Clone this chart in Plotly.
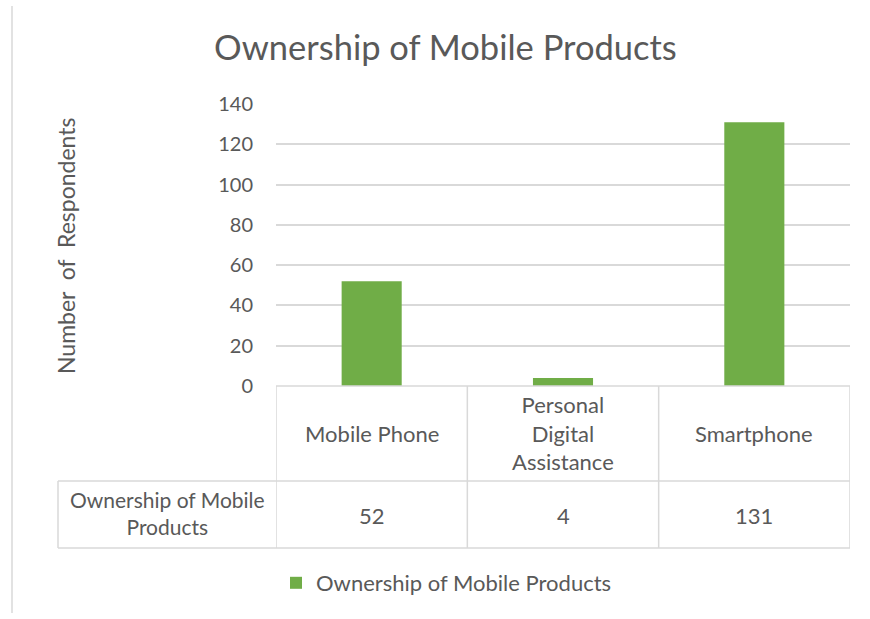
import plotly.graph_objects as go

categories = ["Mobile Phone", "Personal<br>Digital<br>Assistance", "Smartphone"]
values = [52, 4, 131]
series_name = "Ownership of Mobile Products"
row_label = "Ownership of Mobile<br>Products"
y_ticks = [0, 20, 40, 60, 80, 100, 120, 140]

W, H = 870, 619
L, R, T, B = 276, 850, 104, 386
GREEN = "#70ad47"
TXT = "#595959"
GRID = "#d9d9d9"
FONT = "Lato"

def px(x):
    return (x - L) / (R - L)

def py(y):
    return (B - y) / (B - T)

fig = go.Figure()
fig.add_trace(go.Bar(x=list(range(len(values))), y=values, name=series_name,
                     marker=dict(color=GREEN, line=dict(width=0))))

shapes = []
line = dict(color=GRID, width=1.5)
# table horizontal lines
for yy, x0 in [(B, L), (481, 58), (548, 58)]:
    shapes.append(dict(type="line", xref="paper", yref="paper", x0=px(x0), x1=1,
                       y0=py(yy), y1=py(yy), line=line))
# table vertical lines (category boundaries)
for i in range(len(values) + 1):
    shapes.append(dict(type="line", xref="x", yref="paper", x0=i - 0.5, x1=i - 0.5,
                       y0=py(B), y1=py(548), line=line))
shapes.append(dict(type="line", xref="paper", yref="paper", x0=px(58), x1=px(58),
                   y0=py(481), y1=py(548), line=line))
# chart area left border
shapes.append(dict(type="line", xref="paper", yref="paper", x0=px(12), x1=px(12),
                   y0=py(6), y1=py(613), line=dict(color=GRID, width=1.5)))

ann = []
for i, (c, v) in enumerate(zip(categories, values)):
    ann.append(dict(x=i, y=py(433), xref="x", yref="paper", text=c, showarrow=False,
                    font=dict(family=FONT, size=22, color=TXT), align="center",
                    xanchor="center", yanchor="middle"))
    ann.append(dict(x=i, y=py(515), xref="x", yref="paper", text=str(v), showarrow=False,
                    font=dict(family=FONT, size=22, color=TXT),
                    xanchor="center", yanchor="middle"))
ann.append(dict(x=px(167), y=py(513), xref="paper", yref="paper", text=row_label,
                showarrow=False, font=dict(family=FONT, size=21, color=TXT),
                align="center", xanchor="center", yanchor="middle"))
ann.append(dict(x=px(66), y=py(246), xref="paper", yref="paper", text="Number  of  Respondents",
                showarrow=False, textangle=-90, font=dict(family=FONT, size=23, color=TXT),
                xanchor="center", yanchor="middle"))

fig.update_layout(
    width=W, height=H,
    margin=dict(l=L, r=W - R, t=T, b=H - B),
    paper_bgcolor="white", plot_bgcolor="white",
    title=dict(text="Ownership of Mobile Products", x=0.512, xanchor="center",
               y=1 - 48 / H, yanchor="middle",
               font=dict(family=FONT, size=34.5, color=TXT)),
    bargap=0.686,
    showlegend=True,
    legend=dict(orientation="h", x=px(276), xanchor="left", y=py(583), yanchor="middle",
                font=dict(family=FONT, size=22, color=TXT), itemsizing="constant"),
    xaxis=dict(range=[-0.5, 2.5], showticklabels=False, showgrid=False, zeroline=False,
               showline=False, ticks=""),
    yaxis=dict(range=[0, 140], tickvals=y_ticks, showgrid=True, gridcolor=GRID, gridwidth=1.5,
               zeroline=False, showline=False, ticks="", ticklabelstandoff=22,
               tickfont=dict(family=FONT, size=20, color=TXT)),
    shapes=shapes, annotations=ann,
)

fig.write_html("out.html")
